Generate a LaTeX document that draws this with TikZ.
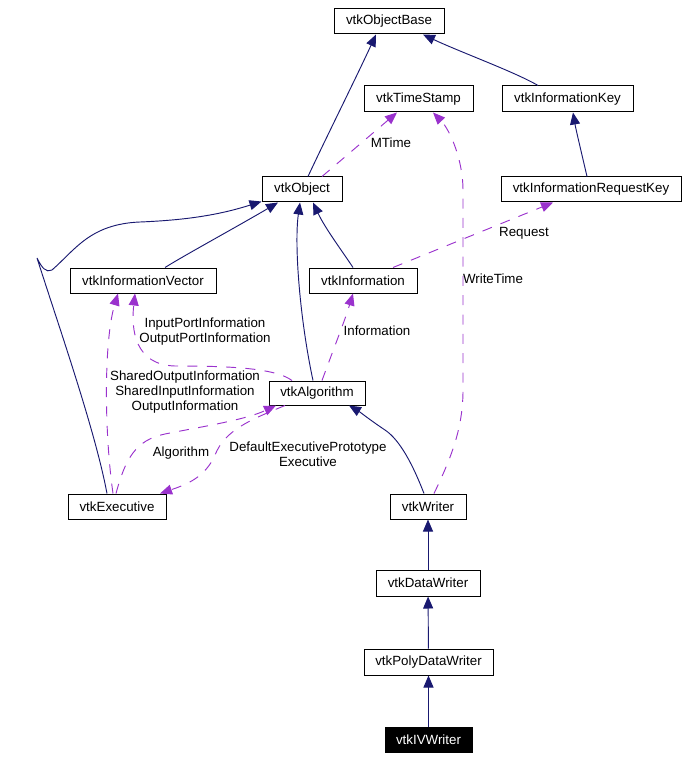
\documentclass[tikz,border=0pt]{standalone}
\usepackage{fontspec}
\setmainfont{Liberation Sans}
\usetikzlibrary{arrows.meta,calc}
\definecolor{navy}{HTML}{191970}
\definecolor{orch}{HTML}{9A32CD}
\begin{document}
\begin{tikzpicture}[x=0.75pt,y=-0.75pt,
  box/.style={draw=black,line width=0.75pt,fill=white,inner sep=0pt,minimum height=18.75pt,font=\fontsize{10pt}{12pt}\selectfont},
  inh/.style={draw=navy,line width=0.7pt,-{Triangle[length=9pt,width=7.5pt]},color=navy},
  use/.style={draw=orch,line width=0.7pt,dash pattern=on 7.5pt off 7pt,-{Triangle[length=9pt,width=7.5pt]},color=orch},
  lbl/.style={font=\fontsize{10pt}{11.25pt}\selectfont,align=center,inner sep=0pt,text=black}]
\useasboundingbox (0,0) rectangle (687,759);
\node[box,minimum width=82.5pt] (ob) at (389,21.5) {vtkObjectBase};
\node[box,minimum width=81.75pt,minimum height=19.5pt] (ts) at (418.5,99) {vtkTimeStamp};
\node[box,minimum width=98.25pt,minimum height=19.5pt] (ik) at (567.5,99) {vtkInformationKey};
\node[box,minimum width=60pt] (o) at (302,189.5) {vtkObject};
\node[box,minimum width=135pt] (irk) at (591,189.5) {vtkInformationRequestKey};
\node[box,minimum width=109.5pt] (iv) at (143,280.5) {vtkInformationVector};
\node[box,minimum width=81pt] (inf) at (363,280.5) {vtkInformation};
\node[box,minimum width=72pt,minimum height=18pt] (alg) at (317,393) {vtkAlgorithm};
\node[box,minimum width=73.5pt] (ex) at (117,506.5) {vtkExecutive};
\node[box,minimum width=57pt] (w) at (428,506.5) {vtkWriter};
\node[box,minimum width=78pt,minimum height=19.5pt] (dw) at (428,583) {vtkDataWriter};
\node[box,minimum width=96.75pt,minimum height=19.5pt] (pdw) at (428.5,662) {vtkPolyDataWriter};
\node[box,minimum width=65.25pt,fill=black,text=white] (ivw) at (428.5,739.5) {vtkIVWriter};

% inheritance
\draw[inh] ($(o.north)+(6,0)$) .. controls (325,140) and (355,80) .. ($(ob.south)+(-13,0)$);
\draw[inh] ($(ik.north)+(-29.5,0)$) .. controls (515,72) and (460,52) .. ($(ob.south)+(34,0)$);
\draw[inh] ($(irk.north)+(-4,0)$) .. controls (582,155) and (576,130) .. ($(ik.south)+(5.5,0)$);
\draw[inh] ($(iv.north)+(22,0)$) .. controls (185,255) and (240,225) .. ($(o.south)+(-24,0)$);
\draw[inh] ($(ex.north)+(-10,0)$) .. controls (95,430) and (60,330) .. (37,258)
  .. controls (42,268) and (46,273) .. (52,270)
  .. controls (75,250) and (90,224) .. (140,222)
  .. controls (190,220) and (222,214) .. ($(o.south west)+(0,-1)$);
\draw[inh] ($(inf.north)+(-10,0)$) .. controls (340,248) and (325,228) .. ($(o.south)+(11,0)$);
\draw[inh] ($(alg.north)+(-4,0)$) .. controls (300,320) and (294,245) .. ($(o.south)+(-2,0)$);
\draw[inh] ($(w.north)+(-4,0)$) .. controls (413,465) and (400,440) .. (385,430)
  .. controls (370,420) and (360,412) .. ($(alg.south)+(32,0)$);
\draw[inh] (dw) -- (w);
\draw[inh] (pdw) -- (dw);
\draw[inh] (ivw) -- (pdw);

% usage
\draw[use] ($(o.north)+(20,0)$) -- ($(ts.south)+(-21.5,0)$);
\node[lbl] (lmt) at (391,143) {MTime};
\draw[use] ($(inf.north)+(30,0)$) -- ($(irk.south)+(-38,0)$);
\node[lbl] (lrq) at (524,233) {Request};
\draw[use] ($(w.north)+(6,0)$) .. controls (450,460) and (463,430) .. (463,390)
  -- (463,190) .. controls (463,160) and (450,130) .. ($(ts.south)+(14.5,0)$);
\node[lbl] (lwt) at (493,279) {WriteTime};
\draw[use] ($(alg.north)+(5,0)$) .. controls (335,345) and (345,320) .. ($(inf.south)+(-10,0)$);
\node[lbl] (lin) at (377,331) {Information};
\draw[use] ($(alg.north)+(-25,0)$) .. controls (275,368) and (230,366) .. (175,366)
  .. controls (135,365) and (131,330) .. ($(iv.south)+(-8,0)$);
\node[lbl] (lip) at (205,332) {InputPortInformation\\OutputPortInformation};
\draw[use] ($(ex.north)+(-4,0)$) .. controls (104,430) and (104,340) .. ($(iv.south)+(-25,0)$);
\node[lbl] (lsh) at (185,392) {SharedOutputInformation\\SharedInputInformation\\OutputInformation};
\draw[use] ($(ex.north)+(-1,0)$) .. controls (125,460) and (135,440) .. (165,434)
  .. controls (200,427) and (245,420) .. ($(alg.south)+(-41,0)$);
\node[lbl] (lal) at (181,453) {Algorithm};
\draw[use] ($(alg.south)+(-32,0)$) .. controls (250,420) and (225,430) .. (215,455)
  .. controls (205,478) and (185,485) .. ($(ex.north)+(43,0)$);
\node[lbl] (lde) at (308,454.5) {DefaultExecutivePrototype\\Executive};
\end{tikzpicture}
\end{document}
